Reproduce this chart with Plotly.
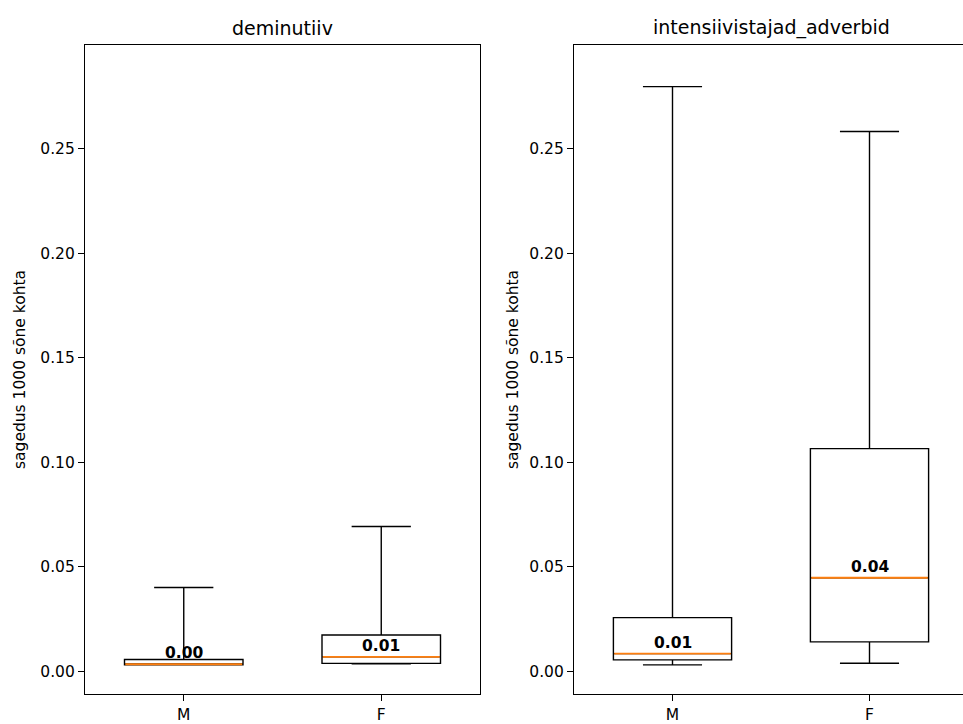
import plotly.graph_objects as go

groups = ["M", "F"]
positions = [1, 2]
titles = ["deminutiiv", "intensiivistajad_adverbid"]

# deminutiiv
dem_low = [0.0030, 0.0035]
dem_q1 = [0.0030, 0.0037]
dem_med = [0.0033, 0.0068]
dem_q3 = [0.0056, 0.0173]
dem_high = [0.0400, 0.0692]
dem_labels = ["0.00", "0.01"]

# intensiivistajad_adverbid
int_low = [0.0030, 0.0038]
int_q1 = [0.0054, 0.0140]
int_med = [0.0084, 0.0447]
int_q3 = [0.0256, 0.1065]
int_high = [0.2798, 0.2583]
int_labels = ["0.01", "0.04"]

W, H = 963, 724
FONT = "DejaVu Sans"

fig = go.Figure()

panels = [
    ("x", "y", dem_low, dem_q1, dem_med, dem_q3, dem_high, dem_labels),
    ("x2", "y2", int_low, int_q1, int_med, int_q3, int_high, int_labels),
]
half = 0.3
for xa, ya, lo, q1, med, q3, hi, labs in panels:
    for i, p in enumerate(positions):
        fig.add_trace(go.Box(
            x=[p], q1=[q1[i]], median=[med[i]], q3=[q3[i]],
            lowerfence=[lo[i]], upperfence=[hi[i]],
            width=0.6, whiskerwidth=0.5,
            fillcolor="rgba(0,0,0,0)",
            line=dict(color="black", width=1.4),
            boxpoints=False, showlegend=False, hoverinfo="skip",
            xaxis=xa, yaxis=ya,
        ))
        fig.add_trace(go.Scatter(
            x=[p - half + 0.004, p + half - 0.004], y=[med[i], med[i]],
            mode="lines", line=dict(color="#ff7f0e", width=1.8),
            showlegend=False, hoverinfo="skip", xaxis=xa, yaxis=ya,
        ))
        fig.add_annotation(
            x=p, y=med[i], xref=xa, yref=ya, text="<b>" + labs[i] + "</b>",
            showarrow=False, yanchor="bottom", xanchor="center", yshift=0,
            font=dict(family=FONT, size=15.5, color="black"),
        )

yr = [-0.011, 0.2998]
tickv = [0.0, 0.05, 0.10, 0.15, 0.20, 0.25]
tickt = ["0.00", "0.05", "0.10", "0.15", "0.20", "0.25"]

axis_common = dict(
    showgrid=False, zeroline=False, showline=True, linecolor="black", linewidth=1.2,
    ticks="outside", ticklen=6, tickcolor="black", tickwidth=1.2,
    tickfont=dict(family=FONT, size=15.5, color="black"),
)

x1d = [85 / W, 480 / W]
x2d = [574 / W, 1.0]
yd = [1 - 697 / H, 1 - 45 / H]
ylab_font = dict(family=FONT, size=15.5, color="black")

fig.update_layout(
    width=W, height=H,
    margin=dict(l=0, r=0, t=0, b=0),
    paper_bgcolor="white", plot_bgcolor="white",
    xaxis=dict(domain=x1d, range=[0.5, 2.5], tickvals=positions, ticktext=groups,
               mirror=True, anchor="y", **axis_common),
    yaxis=dict(domain=yd, range=yr, tickvals=tickv, ticktext=tickt, mirror=True,
               anchor="x", title=dict(text="sagedus 1000 sõne kohta", standoff=10,
                                      font=ylab_font),
               **axis_common),
    xaxis2=dict(domain=x2d, range=[0.5, 0.5 + (W - 574) / 197.0], tickvals=positions,
                ticktext=groups, mirror=True, anchor="y2", **axis_common),
    yaxis2=dict(domain=yd, range=yr, tickvals=tickv, ticktext=tickt, mirror=False,
                anchor="x2", title=dict(text="sagedus 1000 sõne kohta", standoff=6,
                                        font=ylab_font),
                **axis_common),
    annotations=list(fig.layout.annotations) + [
        dict(x=(x1d[0] + x1d[1]) / 2, y=1 - 28 / H, xref="paper", yref="paper",
             text=titles[0], showarrow=False, yanchor="middle", xanchor="center",
             font=dict(family=FONT, size=19, color="black")),
        dict(x=(574 + 968) / 2 / W, y=1 - 28 / H, xref="paper", yref="paper",
             text=titles[1], showarrow=False, yanchor="middle", xanchor="center",
             font=dict(family=FONT, size=19, color="black")),
    ],
)

fig.write_html("out.html")
